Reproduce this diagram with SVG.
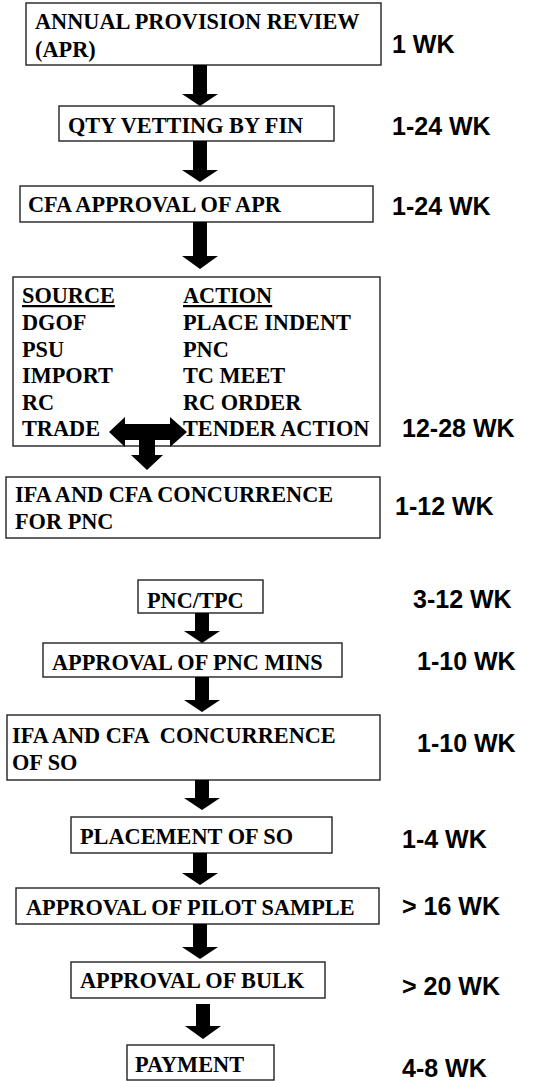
<svg xmlns="http://www.w3.org/2000/svg" width="539" height="1081" viewBox="0 0 539 1081">
<style>
.box{fill:#fff;stroke:#222;stroke-width:1.4}
.t{font-family:"Liberation Serif","Times New Roman",serif;font-weight:bold;font-size:22.3px;fill:#000;white-space:pre}
.u{text-decoration:underline}
.w{font-family:"Liberation Sans",Arial,sans-serif;font-weight:bold;font-size:25px;fill:#000}
.ar{fill:#000}
</style>
<rect width="539" height="1081" fill="#fff"/>
<g id="n1"><rect class="box" x="26" y="3" width="355" height="62"/><text class="t" x="35" y="29">ANNUAL PROVISION REVIEW</text><text class="t" x="35" y="57">(APR)</text></g>
<g id="n2"><rect class="box" x="59" y="106" width="275" height="35"/><text class="t" x="68" y="133">QTY VETTING BY FIN</text></g>
<g id="n3"><rect class="box" x="20" y="186" width="353" height="36"/><text class="t" x="28" y="212">CFA APPROVAL OF APR</text></g>
<g id="n4"><rect class="box" x="13" y="277" width="367" height="169"/>
<text class="t u" x="22" y="303">SOURCE</text><text class="t u" x="183" y="303">ACTION</text>
<text class="t" x="22" y="330">DGOF</text><text class="t" x="183" y="330">PLACE INDENT</text>
<text class="t" x="22" y="357">PSU</text><text class="t" x="183" y="357">PNC</text>
<text class="t" x="22" y="383">IMPORT</text><text class="t" x="183" y="383">TC MEET</text>
<text class="t" x="22" y="410">RC</text><text class="t" x="183" y="410">RC ORDER</text>
<text class="t" x="22" y="436">TRADE</text><text class="t" x="183" y="436">TENDER ACTION</text>
</g>
<g id="n5"><rect class="box" x="6" y="477" width="374" height="61"/><text class="t" x="15" y="502">IFA AND CFA CONCURRENCE</text><text class="t" x="15" y="529">FOR PNC</text></g>
<g id="n6"><rect class="box" x="138" y="580" width="125" height="33"/><text class="t" x="147" y="608">PNC/TPC</text></g>
<g id="n7"><rect class="box" x="43" y="643" width="299" height="34"/><text class="t" x="52" y="670">APPROVAL OF PNC MINS</text></g>
<g id="n8"><rect class="box" x="7" y="715" width="373" height="65"/><text class="t" x="12" y="743">IFA AND CFA  CONCURRENCE</text><text class="t" x="12" y="770">OF SO</text></g>
<g id="n9"><rect class="box" x="71" y="817" width="261" height="36"/><text class="t" x="80" y="844">PLACEMENT OF SO</text></g>
<g id="n10"><rect class="box" x="16" y="888" width="363" height="36"/><text class="t" x="26" y="915">APPROVAL OF PILOT SAMPLE</text></g>
<g id="n11"><rect class="box" x="71" y="962" width="254" height="36"/><text class="t" x="80" y="988">APPROVAL OF BULK</text></g>
<g id="n12"><rect class="box" x="127" y="1045" width="147" height="35"/><text class="t" x="135" y="1072">PAYMENT</text></g>
<g id="connectors">
<path class="ar" d="M193,65 H207 V94 H218 L200,106 L182,94 H193 Z"/>
<path class="ar" d="M193,141 H207 V170 H218 L200,182 L182,170 H193 Z"/>
<path class="ar" d="M193,222 H207 V256 H218 L200,269 L182,256 H193 Z"/>
<path class="ar" d="M109,432 L125,417 V424 H170 V417 L187,432 L170,447 V440 H155 V455 H163 L147,470 L131,455 H139 V440 H125 V447 Z"/>
<path class="ar" d="M195,613 H209 V631 H220 L202,643 L184,631 H195 Z"/>
<path class="ar" d="M195,677 H209 V700 H220 L202,712 L184,700 H195 Z"/>
<path class="ar" d="M195,780 H209 V798 H220 L202,810 L184,798 H195 Z"/>
<path class="ar" d="M193,853 H207 V873 H218 L200,885 L182,873 H193 Z"/>
<path class="ar" d="M193,924 H207 V947 H218 L200,959 L182,947 H193 Z"/>
<path class="ar" d="M196,1004 H210 V1026 H221 L203,1039 L185,1026 H196 Z"/>
</g>
<g id="labels">
<text class="w" x="392" y="53">1 WK</text>
<text class="w" x="392" y="135">1-24 WK</text>
<text class="w" x="392" y="215">1-24 WK</text>
<text class="w" x="402" y="437">12-28 WK</text>
<text class="w" x="395" y="515">1-12 WK</text>
<text class="w" x="413" y="608">3-12 WK</text>
<text class="w" x="417" y="670">1-10 WK</text>
<text class="w" x="417" y="752">1-10 WK</text>
<text class="w" x="402" y="848">1-4 WK</text>
<text class="w" x="402" y="915">&gt; 16 WK</text>
<text class="w" x="402" y="995">&gt; 20 WK</text>
<text class="w" x="402" y="1077">4-8 WK</text>
</g>
</svg>
